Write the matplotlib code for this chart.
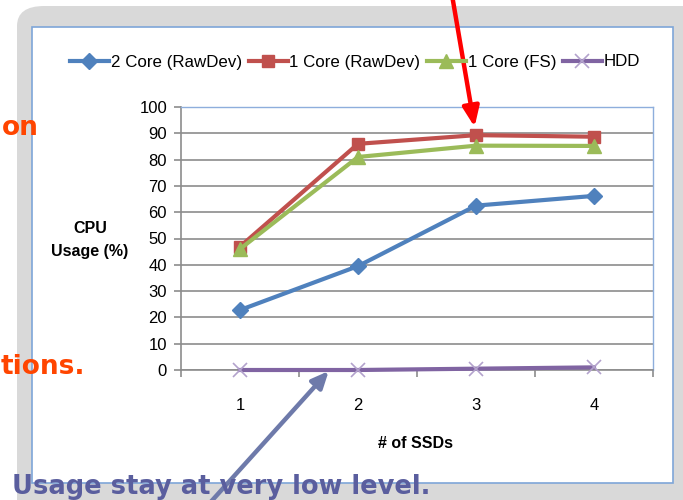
import matplotlib
matplotlib.use("Agg")
import matplotlib.pyplot as plt
from matplotlib.patches import FancyBboxPatch, Rectangle

plt.rcParams['font.family'] = ['Liberation Sans', 'DejaVu Sans']

# CPU usage (%) by number of SSDs
ssds = [1, 2, 3, 4]
core2_rawdev = [22.8, 39.5, 62.5, 66.2]
core1_rawdev = [46.9, 86.0, 89.3, 88.7]
core1_fs = [46.0, 81.0, 85.3, 85.2]
hdd = [0.0, 0.0, 0.5, 1.0]

series_names = ['2 Core (RawDev)', '1 Core (RawDev)', '1 Core (FS)', 'HDD']
y_ticks = list(range(0, 101, 10))

W, H = 683, 500
fig = plt.figure(figsize=(W / 100, H / 100), dpi=100)

def px(x, y):
    # pixel position (from top-left) to figure fraction
    return x / W, 1 - y / H

# slide panel and chart area
fig.patches.append(FancyBboxPatch((17 / W, -20 / H), 700 / W, 514 / H,
                                  boxstyle="round,pad=0,rounding_size=0.04",
                                  transform=fig.transFigure, facecolor='#D9D9D9',
                                  edgecolor='none', zorder=0))
fig.patches.append(Rectangle((32 / W, 1 - 483 / H), 641 / W, 456 / H,
                             transform=fig.transFigure, facecolor='white',
                             edgecolor='#7EA6D8', linewidth=1.2, zorder=1))

x0, y0 = px(181, 370)
x1, y1 = px(653, 107)
ax = fig.add_axes([x0, y0, x1 - x0, y1 - y0], zorder=2)
ax.set_facecolor('white')

styles = [
    dict(color='#4F81BD', marker='D', markersize=8),
    dict(color='#C0504D', marker='s', markersize=9),
    dict(color='#9BBB59', marker='^', markersize=10),
    dict(color='#8064A2', marker='x', markersize=10, markeredgecolor='#B3A2CC',
         markeredgewidth=1.2),
]
data = [core2_rawdev, core1_rawdev, core1_fs, hdd]
handles = []
for vals, name, st in zip(data, series_names, styles):
    line, = ax.plot(ssds, vals, linewidth=3, label=name, zorder=3,
                    clip_on=False, **st)
    handles.append(line)

ax.set_xlim(0.5, 4.5)
ax.set_ylim(0, 100)
ax.set_yticks(y_ticks)
ax.set_xticks(ssds)
ax.set_xticks([0.5, 1.5, 2.5, 3.5, 4.5], minor=True)
ax.grid(axis='y', color='#8C8C8C', linewidth=1.2)
ax.set_axisbelow(True)
ax.tick_params(axis='x', which='major', length=0, pad=20, labelsize=12)
ax.tick_params(axis='x', which='minor', length=5, color='#8C8C8C', width=1.2)
ax.tick_params(axis='y', length=5, color='#8C8C8C', width=1.2, pad=5, labelsize=12)
for s in ['left', 'bottom']:
    ax.spines[s].set_color('#8C8C8C')
    ax.spines[s].set_linewidth(1.2)
for s in ['top', 'right']:
    ax.spines[s].set_color('#8EAEDC')
    ax.spines[s].set_linewidth(1)

fig.text(*px(90, 240), 'CPU\nUsage (%)', ha='center', va='center',
         fontsize=11.5, fontweight='bold', linespacing=1.7, zorder=3)
fig.text(*px(415, 443), '# of SSDs', ha='center', va='center',
         fontsize=11.5, fontweight='bold', zorder=3)

fig.legend(handles=handles, loc='center', bbox_to_anchor=px(355, 62), ncol=4,
           frameon=False, fontsize=12.2, handlelength=2.3, handletextpad=0.1,
           columnspacing=0.4)

# callout arrows
ax.annotate('', xy=(3, core1_rawdev[2]), xycoords='data',
            xytext=px(452, -5), textcoords='figure fraction',
            arrowprops=dict(arrowstyle='-|>,head_length=1.2,head_width=0.5',
                            color='#FF0000', linewidth=3.2, shrinkA=0, shrinkB=6),
            annotation_clip=False, zorder=5)
ax.annotate('', xy=(1.76, hdd[1]), xycoords='data',
            xytext=px(208, 505), textcoords='figure fraction',
            arrowprops=dict(arrowstyle='-|>,head_length=1.0,head_width=0.45',
                            color='#6E7AAA', linewidth=3.2, shrinkA=0, shrinkB=1),
            annotation_clip=False, zorder=5)

# slide text around the chart
fig.text(2 / W, 1 - 128 / H, 'on', ha='left', va='center', fontsize=19,
         fontweight='bold', color='#FF4500', family='DejaVu Sans', zorder=6)
fig.text(1 / W, 1 - 367 / H, 'tions.', ha='left', va='center', fontsize=19,
         fontweight='bold', color='#FF4500', family='DejaVu Sans', zorder=6)
fig.text(*px(12, 487), 'Usage stay at very low level.', ha='left',
         va='center', fontsize=18.5, fontweight='bold', color='#5A5E9E',
         family='DejaVu Sans', zorder=6)

fig.savefig('out.png', dpi=100)
